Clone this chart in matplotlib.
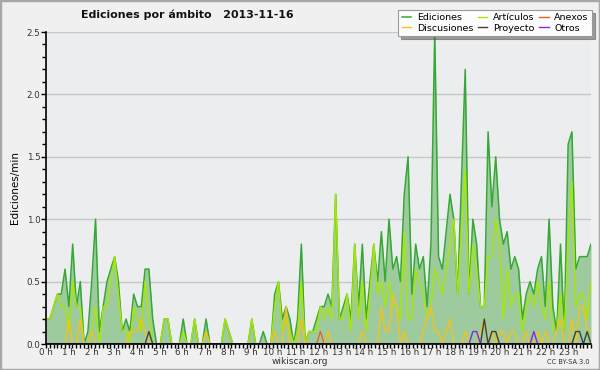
import numpy as np
import matplotlib
matplotlib.use("Agg")
import matplotlib.pyplot as plt
from matplotlib.ticker import MultipleLocator, FormatStrFormatter
from matplotlib.patches import Rectangle

# edits per minute, one value per 10 minutes (6 per hour)
ediciones = [
    0.2, 0.2, 0.3, 0.4, 0.4, 0.6,   # 0 h
    0.3, 0.8, 0.3, 0.5, 0.0, 0.1,   # 1 h
    0.5, 1.0, 0.1, 0.3, 0.5, 0.6,   # 2 h
    0.7, 0.5, 0.1, 0.2, 0.1, 0.4,   # 3 h
    0.3, 0.3, 0.6, 0.6, 0.2, 0.0,   # 4 h
    0.0, 0.2, 0.2, 0.0, 0.0, 0.0,   # 5 h
    0.2, 0.0, 0.0, 0.2, 0.0, 0.0,   # 6 h
    0.2, 0.0, 0.0, 0.0, 0.0, 0.2,   # 7 h
    0.1, 0.0, 0.0, 0.0, 0.0, 0.0,   # 8 h
    0.2, 0.0, 0.0, 0.1, 0.0, 0.0,   # 9 h
    0.4, 0.5, 0.2, 0.3, 0.2, 0.0,   # 10 h
    0.2, 0.8, 0.0, 0.1, 0.1, 0.2,   # 11 h
    0.3, 0.3, 0.4, 0.3, 1.2, 0.2,   # 12 h
    0.3, 0.4, 0.2, 0.8, 0.3, 0.8,   # 13 h
    0.2, 0.5, 0.8, 0.5, 0.9, 0.5,   # 14 h
    1.0, 0.6, 0.7, 0.5, 1.2, 1.5,   # 15 h
    0.4, 0.8, 0.6, 0.7, 0.3, 0.8,   # 16 h
    2.5, 0.7, 0.6, 0.9, 1.2, 1.0,   # 17 h
    0.4, 1.3, 2.2, 0.4, 1.0, 0.8,   # 18 h
    0.3, 0.3, 1.7, 1.1, 1.5, 1.0,   # 19 h
    0.8, 0.9, 0.6, 0.7, 0.6, 0.2,   # 20 h
    0.4, 0.5, 0.4, 0.6, 0.7, 0.3,   # 21 h
    1.0, 0.3, 0.1, 0.8, 0.1, 1.6,   # 22 h
    1.7, 0.6, 0.7, 0.7, 0.7, 0.8,   # 23 h
]

articulos = [
    0.2, 0.2, 0.3, 0.4, 0.3, 0.3,
    0.1, 0.5, 0.3, 0.3, 0.0, 0.0,
    0.1, 0.3, 0.0, 0.3, 0.3, 0.5,
    0.7, 0.4, 0.1, 0.1, 0.0, 0.3,
    0.2, 0.1, 0.5, 0.2, 0.0, 0.0,
    0.0, 0.2, 0.2, 0.0, 0.0, 0.0,
    0.1, 0.0, 0.0, 0.2, 0.0, 0.0,
    0.1, 0.0, 0.0, 0.0, 0.0, 0.2,
    0.1, 0.0, 0.0, 0.0, 0.0, 0.0,
    0.2, 0.0, 0.0, 0.0, 0.0, 0.0,
    0.3, 0.5, 0.1, 0.2, 0.1, 0.0,
    0.1, 0.5, 0.0, 0.1, 0.1, 0.1,
    0.3, 0.2, 0.3, 0.2, 1.2, 0.2,
    0.2, 0.4, 0.1, 0.8, 0.2, 0.5,
    0.1, 0.4, 0.8, 0.4, 0.5, 0.3,
    0.5, 0.3, 0.3, 0.2, 0.9, 0.2,
    0.2, 0.6, 0.5, 0.4, 0.2, 0.3,
    0.6, 0.5, 0.4, 0.6, 0.8, 1.0,
    0.4, 0.9, 1.4, 0.4, 0.8, 0.6,
    0.3, 0.3, 0.7, 0.7, 1.0, 0.8,
    0.2, 0.6, 0.3, 0.4, 0.4, 0.1,
    0.3, 0.4, 0.3, 0.5, 0.3, 0.2,
    0.5, 0.1, 0.1, 0.4, 0.1, 0.8,
    1.3, 0.3, 0.4, 0.4, 0.2, 0.5,
]

# sparse series: {slot index: value}, every other slot is 0
discusiones = {6: 0.2, 9: 0.2, 12: 0.1, 22: 0.1, 23: 0.1, 24: 0.1, 25: 0.2,
               26: 0.1, 42: 0.1, 60: 0.1, 63: 0.3, 67: 0.2, 74: 0.1, 83: 0.1,
               88: 0.3, 89: 0.1, 90: 0.1, 91: 0.4, 92: 0.3, 94: 0.1, 99: 0.1,
               100: 0.2, 101: 0.3, 102: 0.1, 103: 0.1, 105: 0.1, 106: 0.2,
               110: 0.1, 114: 0.1, 115: 0.2, 117: 0.1, 119: 0.1, 120: 0.1,
               122: 0.1, 123: 0.1, 126: 0.1, 129: 0.1, 131: 0.1, 134: 0.1,
               135: 0.2, 138: 0.2, 140: 0.3, 141: 0.3, 142: 0.1, 143: 0.1}
proyecto = {27: 0.1, 115: 0.2, 117: 0.1, 118: 0.1, 139: 0.1, 140: 0.1, 142: 0.1}
anexos = {72: 0.1}
otros = {112: 0.1, 113: 0.1, 128: 0.1}

hour_labels = [f"{h} h" for h in range(24)]

n = len(ediciones)
x = np.linspace(0, 24, n)


def full(sparse):
    arr = np.zeros(n)
    for k, v in sparse.items():
        arr[k] = v
    return arr


fig = plt.figure(figsize=(6, 3.7), dpi=100, facecolor="#f0f0f0")
fig.patches.append(Rectangle((0, 0), 1, 1, transform=fig.transFigure,
                             fill=False, ec="#a8a8a8", lw=2.5))
ax = fig.add_axes([46 / 600, 26 / 370, 545 / 600, 312 / 370])
ax.set_facecolor("#ecedef")

ax.fill_between(x, ediciones, 0, color="#9dcb9d", lw=0, zorder=1)
ax.plot(x, ediciones, color="#35a835", lw=1.1, label="Ediciones", zorder=3)
ax.plot(x, articulos, color="#a8e800", lw=1.0, label="Artículos", zorder=4)
ax.plot(x, full(anexos), color="#e8632a", lw=1.0, label="Anexos", zorder=5)
ax.plot(x, full(discusiones), color="#f2c318", lw=1.0, label="Discusiones", zorder=5)
ax.plot(x, full(proyecto), color="#404040", lw=1.0, label="Proyecto", zorder=6)
ax.plot(x, full(otros), color="#7a2ee8", lw=1.0, label="Otros", zorder=6)

ax.set_xlim(0, 24)
ax.set_ylim(0, 2.5)
ax.yaxis.grid(True, color="#c8c8c8", lw=1)
ax.set_axisbelow(True)
for s in ["top", "right"]:
    ax.spines[s].set_visible(False)
for s in ["left", "bottom"]:
    ax.spines[s].set_linewidth(1.2)
    ax.spines[s].set_zorder(7)

ax.set_xticks(range(24))
ax.set_xticklabels(hour_labels)
ax.xaxis.set_minor_locator(MultipleLocator(1 / 6))
ax.yaxis.set_major_locator(MultipleLocator(0.5))
ax.yaxis.set_minor_locator(MultipleLocator(0.1))
ax.yaxis.set_major_formatter(FormatStrFormatter("%.1f"))
ax.tick_params(axis="both", which="major", direction="out", length=3.5,
               width=1, labelsize=6.3, labelcolor="#333333", pad=0.5)
ax.tick_params(axis="both", which="minor", direction="out", length=3, width=1)
ax.tick_params(axis="x", which="major", length=3, pad=0)
ax.set_ylabel("Ediciones/min", fontsize=7.5, labelpad=5)

handles, labels = ax.get_legend_handles_labels()
order = ["Ediciones", "Discusiones", "Artículos", "Proyecto", "Anexos", "Otros"]
hmap = dict(zip(labels, handles))
leg = ax.legend([hmap[k] for k in order], order, ncol=3, loc="upper right",
                bbox_to_anchor=(592 / 600, 360 / 370), bbox_transform=fig.transFigure,
                fontsize=6.8, frameon=True, fancybox=False, shadow=True,
                handlelength=1.0, handletextpad=0.6, columnspacing=0.5,
                labelspacing=0.15, borderpad=0.35, borderaxespad=0)
leg.get_frame().set_facecolor("#fcfcfc")
leg.get_frame().set_edgecolor("#999999")
leg.get_frame().set_linewidth(0.8)

fig.text(187 / 600, 355 / 370, "Ediciones por ámbito   2013-11-16", ha="center",
         va="center", fontsize=7.9, fontweight="bold", color="#111111")
fig.text(0.5, 8 / 370, "wikiscan.org", ha="center", va="center",
         fontsize=6.5, color="#333333")
fig.text(590 / 600, 8 / 370, "CC BY-SA 3.0", ha="right", va="center",
         fontsize=4.8, color="#333333")

fig.savefig("out.png", dpi=100, facecolor=fig.get_facecolor())
